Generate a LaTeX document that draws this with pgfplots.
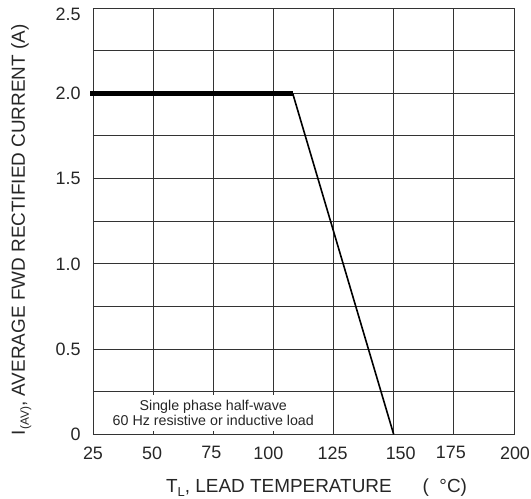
\documentclass[border=0pt]{standalone}
\usepackage{pgfplots}
\pgfplotsset{compat=1.18}
\usepackage{fontspec}
\setmainfont{Liberation Sans}
\begin{document}
\begin{tikzpicture}
\begin{axis}[
  name=ax, at={(0,0)}, anchor=south west,
  scale only axis, width=421bp, height=426.5bp,
  xmin=25, xmax=200, ymin=0, ymax=2.5,
  xtick={25,50,...,200},
  ytick={0,0.5,...,2.5},
  minor ytick={0.25,0.75,...,2.25},
  yticklabels={0,0.5,1.0,1.5,2.0,\raisebox{-6bp}[\height][\depth]{2.5}},
  xticklabels={25,50\hspace*{2bp},75\hspace*{4bp},100\hspace*{10bp},125\hspace*{2bp},\hspace*{14bp}150,175\hspace*{6bp},\hspace*{2bp}200},
  grid=both,
  major grid style={line width=0.9bp, black!80},
  minor grid style={line width=0.9bp, black!80},
  axis line style={line width=0.9bp, black!80},
  major tick length=0pt, minor tick length=0pt,
  tick label style={font=\fontsize{18}{18}\selectfont, text=black!85},
  yticklabel style={xshift=-9bp},
  xticklabel style={yshift=-8.5bp},
  /pgf/number format/assume math mode=true,
  xlabel={T\raisebox{-0.35ex}{\fontsize{13}{13}\selectfont L}, LEAD TEMPERATURE\hspace*{31bp}(\hspace{0.55em}°C)},
  ylabel={I\raisebox{-0.4ex}{\fontsize{12}{12}\selectfont (AV)}, AVERAGE FWD RECTIFIED CURRENT (A)},
  xlabel style={at={(axis description cs:0.531,-0.137)}, anchor=base, font=\fontsize{19}{19}\selectfont, text=black!85},
  ylabel style={at={(axis description cs:-0.162,0.48)}, anchor=base, font=\fontsize{19}{19}\selectfont, text=black!85},
  clip=false,
]
\addplot[black, line width=5.3bp] coordinates {(23.8,2) (108,2)};
\addplot[black, line width=1.6bp] coordinates {(108,2) (150,0)};
\fill[white] (axis cs:25.5,0.02) rectangle (axis cs:124.5,0.232);
\node[align=center, font=\fontsize{14.3}{15}\selectfont, text=black!85] at (axis cs:75,0.125) {Single phase half-wave\\60 Hz resistive or inductive load};
\end{axis}
\pgfresetboundingbox
\path (-93bp,-64.5bp) rectangle (438bp,434.5bp);
\end{tikzpicture}
\end{document}
